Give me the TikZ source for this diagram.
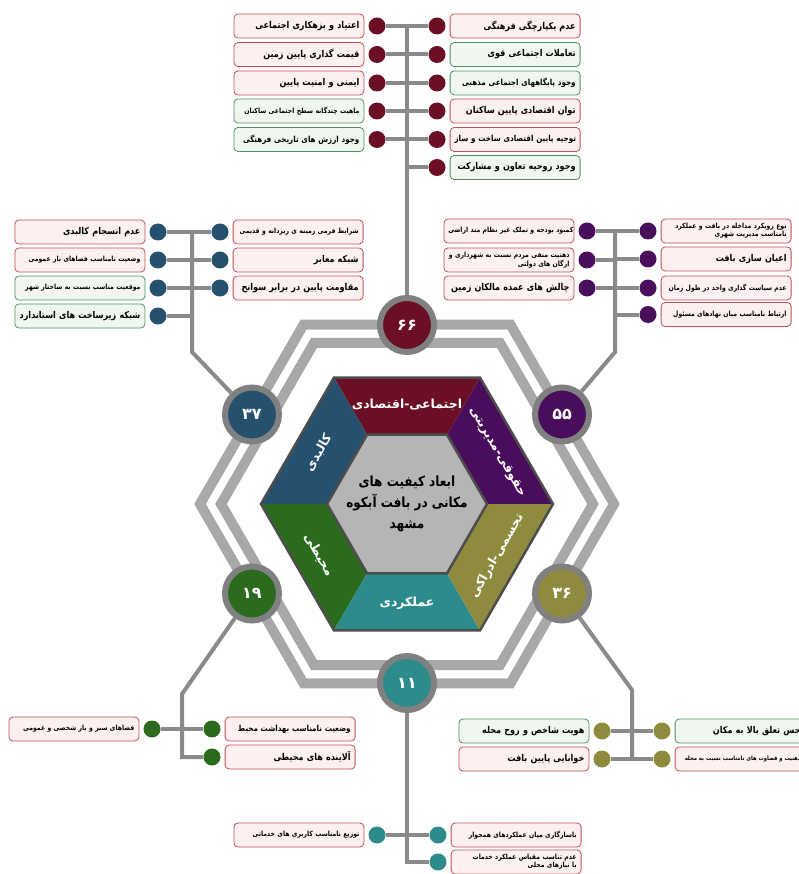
\documentclass[tikz,border=0pt]{standalone}
\usepackage{fontspec}
\newfontfamily\fa[Script=Arabic,FakeStretch=0.86]{DejaVu Sans}
\newfontfamily\fawide[Script=Arabic]{DejaVu Sans}
\TeXXeTstate=1
\usetikzlibrary{calc,positioning,backgrounds}

\definecolor{secTop}{HTML}{6B0F24}
\definecolor{secUR}{HTML}{4A0D5C}
\definecolor{secLR}{HTML}{8E8B3E}
\definecolor{secBot}{HTML}{2E8B8B}
\definecolor{secLL}{HTML}{2A6B1E}
\definecolor{secUL}{HTML}{25506E}
\definecolor{rimgray}{HTML}{4D4D4D}
\definecolor{coregray}{HTML}{B5B5B5}
\definecolor{bandgray}{HTML}{A8A8A8}
\definecolor{conngray}{HTML}{8A8A8A}
\definecolor{ringgray}{HTML}{808080}
\definecolor{badline}{HTML}{C0505A}
\definecolor{badfill}{HTML}{FDF0F0}
\definecolor{goodline}{HTML}{4E9160}
\definecolor{goodfill}{HTML}{F0F7F0}

\newcommand{\rl}[1]{\mbox{\beginR #1\endR}}

\tikzstyle{cell}=[rounded corners=4pt,line width=0.8pt,text width=121pt,minimum height=24pt,inner xsep=4.5pt,inner ysep=2pt,align=right,font=\fa\bfseries\fontsize{9.4}{10}\selectfont]
\tikzstyle{bad}=[cell,draw=badline,fill=badfill]
\tikzstyle{good}=[cell,draw=goodline,fill=goodfill]
\tikzstyle{mid}=[font=\fa\bfseries\fontsize{8.3}{9}\selectfont]
\tikzstyle{small}=[font=\fa\bfseries\fontsize{7.1}{8}\selectfont]
\tikzstyle{conn}=[draw=conngray,line width=4pt]
\tikzstyle{band}=[draw=bandgray,line width=10pt]
\tikzstyle{rim}=[draw=rimgray,line width=2.5pt]
\tikzstyle{panel}=[text=white,font=\fawide\bfseries\fontsize{12.5}{14}\selectfont]
\tikzset{bead/.style={circle,fill=#1,minimum size=17pt,inner sep=0pt},
  badge/.style={circle,fill=#1,draw=ringgray,line width=6pt,minimum size=54pt,inner sep=0pt,text=white,font=\fawide\bfseries\fontsize{16}{16}\selectfont}}

\begin{document}
\begin{tikzpicture}[x=1pt,y=-1pt]
\useasboundingbox (0,0) rectangle (799,874);

\coordinate (C) at (407,504);
\foreach \i in {0,...,5} {
  \coordinate (B\i) at ($(C)+(-60*\i:207)$);
  \coordinate (b\i) at ($(C)+(-60*\i:186)$);
  \coordinate (O\i) at ($(C)+(-60*\i:146)$);
  \coordinate (I\i) at ($(C)+(-60*\i:80)$);
}

% frames round the hexagon
\draw[band] (B0)--(B1)--(B2)--(B3)--(B4)--(B5)--cycle;
\draw[band] (b0)--(b1)--(b2)--(b3)--(b4)--(b5)--cycle;

% hexagon
\fill[secUR] (O0)--(O1)--(I1)--(I0)--cycle;
\fill[secTop] (O1)--(O2)--(I2)--(I1)--cycle;
\fill[secUL] (O2)--(O3)--(I3)--(I2)--cycle;
\fill[secLL] (O3)--(O4)--(I4)--(I3)--cycle;
\fill[secBot] (O4)--(O5)--(I5)--(I4)--cycle;
\fill[secLR] (O5)--(O0)--(I0)--(I5)--cycle;
\draw[rim] (O0)--(O1)--(O2)--(O3)--(O4)--(O5)--cycle;
\draw[rim,fill=coregray] (I0)--(I1)--(I2)--(I3)--(I4)--(I5)--cycle;

\node[panel] (lTop) at ($(C)+(-90:99)$) {\rl{اجتماعی-اقتصادی}};
\node[panel,rotate=-60] (lUR) at ($(C)+(-30:104)$) {\rl{حقوقی-مدیریتی}};
\node[panel,rotate=60] (lLR) at ($(C)+(30:104)$) {\rl{تجسمی-ادراکی}};
\node[panel] (lBot) at ($(C)+(90:99)$) {\rl{عملکردی}};
\node[panel,rotate=-60] (lLL) at ($(C)+(150:102)$) {\rl{محیطی}};
\node[panel,rotate=60] (lUL) at ($(C)+(-150:102)$) {\rl{کالبدی}};
\node[align=center,font=\fa\bfseries\fontsize{14}{21}\selectfont] (core) at (C)
  {\rl{ابعاد کیفیت های}\\\rl{مکانی در بافت آبکوه}\\\rl{مشهد}};

% counts
\node[badge=secTop] (n66) at ($(C)+(-90:179)$) {۶۶};
\node[badge=secUR] (n55) at ($(C)+(-30:179)$) {۵۵};
\node[badge=secLR] (n36) at ($(C)+(30:179)$) {۳۶};
\node[badge=secBot] (n11) at ($(C)+(90:179)$) {۱۱};
\node[badge=secLL] (n19) at ($(C)+(150:179)$) {۱۹};
\node[badge=secUL] (n37) at ($(C)+(-150:179)$) {۳۷};

% social-economic
\node[bead=secTop] (tl1) at (377,26) {};
\node[bead=secTop] (tl2) at (377,54.5) {};
\node[bead=secTop] (tl3) at (377,83) {};
\node[bead=secTop] (tl4) at (377,111) {};
\node[bead=secTop] (tl5) at (377,139.5) {};
\node[bad,left=4pt of tl1] (xtl1) {\rl{اعتیاد و بزهکاری اجتماعی}};
\node[bad,left=4pt of tl2] (xtl2) {\rl{قیمت گذاری پایین زمین}};
\node[bad,left=4pt of tl3] (xtl3) {\rl{ایمنی و امنیت پایین}};
\node[good,small,left=4pt of tl4] (xtl4) {\rl{ماهیت چندگانه سطح اجتماعی ساکنان}};
\node[good,mid,left=4pt of tl5] (xtl5) {\rl{وجود ارزش های تاریخی فرهنگی}};
\node[bead=secTop] (tr1) at (437,26) {};
\node[bead=secTop] (tr2) at (437,54.5) {};
\node[bead=secTop] (tr3) at (437,83) {};
\node[bead=secTop] (tr4) at (437,111) {};
\node[bead=secTop] (tr5) at (437,139.5) {};
\node[bead=secTop] (tr6) at (437,167.5) {};
\node[bad,right=4pt of tr1] (xtr1) {\rl{عدم یکپارچگی فرهنگی}};
\node[good,right=4pt of tr2] (xtr2) {\rl{تعاملات اجتماعی قوی}};
\node[good,mid,right=4pt of tr3] (xtr3) {\rl{وجود پایگاههای اجتماعی مذهبی}};
\node[bad,right=4pt of tr4] (xtr4) {\rl{توان اقتصادی پایین ساکنان}};
\node[bad,mid,right=4pt of tr5] (xtr5) {\rl{توجیه پایین اقتصادی ساخت و ساز}};
\node[good,right=4pt of tr6] (xtr6) {\rl{وجود روحیه تعاون و مشارکت}};

% physical
\node[bead=secUL] (ll1) at (158,232) {};
\node[bead=secUL] (ll2) at (158,260) {};
\node[bead=secUL] (ll3) at (158,288) {};
\node[bead=secUL] (ll4) at (158,316) {};
\node[bad,left=4pt of ll1] (xll1) {\rl{عدم انسجام کالبدی}};
\node[bad,small,left=4pt of ll2] (xll2) {\rl{وضعیت نامناسب فضاهای باز عمومی}};
\node[good,small,left=4pt of ll3] (xll3) {\rl{موقعیت مناسب نسبت به ساختار شهر}};
\node[good,left=4pt of ll4] (xll4) {\rl{شبکه زیرساخت های استاندارد}};
\node[bead=secUL] (lr1) at (220,232) {};
\node[bead=secUL] (lr2) at (220,260) {};
\node[bead=secUL] (lr3) at (220,288) {};
\node[bad,small,right=4pt of lr1] (xlr1) {\rl{شرایط فرمی زمینه ی ریزدانه و قدیمی}};
\node[bad,right=4pt of lr2] (xlr2) {\rl{شبکه معابر}};
\node[bad,right=4pt of lr3] (xlr3) {\rl{مقاومت پایین در برابر سوانح}};

% legal-managerial
\node[bead=secUR] (rl1) at (587,231) {};
\node[bead=secUR] (rl2) at (587,260) {};
\node[bead=secUR] (rl3) at (587,288) {};
\node[bad,small,left=4pt of rl1] (xrl1) {\rl{کمبود بودجه و تملک غیر نظام مند اراضی}};
\node[bad,small,left=4pt of rl2] (xrl2) {\rl{ذهنیت منفی مردم نسبت به شهرداری و}\\\rl{ارگان های دولتی}};
\node[bad,left=4pt of rl3] (xrl3) {\rl{چالش های عمده مالکان زمین}};
\node[bead=secUR] (rr1) at (648,231) {};
\node[bead=secUR] (rr2) at (648,259) {};
\node[bead=secUR] (rr3) at (648,288) {};
\node[bead=secUR] (rr4) at (648,314.5) {};
\node[bad,small,right=4pt of rr1] (xrr1) {\rl{نوع رویکرد مداخله در بافت و عملکرد}\\\rl{نامناسب مدیریت شهری}};
\node[bad,right=4pt of rr2] (xrr2) {\rl{اعیان سازی بافت}};
\node[bad,small,right=4pt of rr3] (xrr3) {\rl{عدم سیاست گذاری واحد در طول زمان}};
\node[bad,small,right=4pt of rr4] (xrr4) {\rl{ارتباط نامناسب میان نهادهای مسئول}};

% environmental
\node[bead=secLL] (el1) at (152,729) {};
\node[bad,small,left=4pt of el1] (xel1) {\rl{فضاهای سبز و باز شخصی و عمومی}};
\node[bead=secLL] (er1) at (212,729) {};
\node[bead=secLL] (er2) at (212,757) {};
\node[bad,mid,right=4pt of er1] (xer1) {\rl{وضعیت نامناسب بهداشت محیط}};
\node[bad,right=4pt of er2] (xer2) {\rl{آلاینده های محیطی}};

% visual-perceptual
\node[bead=secLR] (vl1) at (602,731) {};
\node[bead=secLR] (vl2) at (602,759) {};
\node[good,left=4pt of vl1] (xvl1) {\rl{هویت شاخص و روح محله}};
\node[bad,left=4pt of vl2] (xvl2) {\rl{خوانایی پایین بافت}};
\node[bead=secLR] (vr1) at (662,731) {};
\node[bead=secLR] (vr2) at (662,759) {};
\node[good,right=4pt of vr1] (xvr1) {\rl{حس تعلق بالا به مکان}};
\node[bad,font=\fa\bfseries\fontsize{6}{7}\selectfont,right=4pt of vr2] (xvr2) {\rl{ذهنیت و قضاوت های نامناسب نسبت به محله}};

% functional
\node[bead=secBot] (fl1) at (377,835) {};
\node[bad,small,left=4pt of fl1] (xfl1) {\rl{توزیع نامناسب کاربری های خدماتی}};
\node[bead=secBot] (fr1) at (438,835) {};
\node[bead=secBot] (fr2) at (438,862) {};
\node[bad,small,right=4pt of fr1] (xfr1) {\rl{ناسازگاری میان عملکردهای همجوار}};
\node[bad,small,right=4pt of fr2] (xfr2) {\rl{عدم تناسب مقیاس عملکرد خدمات}\\\rl{با نیازهای محلی}};

% trunks
\coordinate (j66) at (407,26);
\coordinate (j37a) at (192,232);
\coordinate (j37b) at (192,352);
\coordinate (j55a) at (615,231);
\coordinate (j55b) at (615,352);
\coordinate (j19a) at (182,694);
\coordinate (j19b) at (182,757);
\coordinate (j36a) at (632,690);
\coordinate (j36b) at (632,759);
\coordinate (j11) at (407,862);

\begin{scope}[on background layer]
\draw[conn] (n66) -- (j66);
\draw[conn] (tl1) -- (tr1);
\draw[conn] (tl2) -- (tl2 -| j66);
\draw[conn] (tl3) -- (tl3 -| j66);
\draw[conn] (tl4) -- (tl4 -| j66);
\draw[conn] (tl5) -- (tl5 -| j66);
\draw[conn] (tr2) -- (tr2 -| j66);
\draw[conn] (tr3) -- (tr3 -| j66);
\draw[conn] (tr4) -- (tr4 -| j66);
\draw[conn] (tr5) -- (tr5 -| j66);
\draw[conn] (tr6) -- (tr6 -| j66);

\draw[conn] (n37) -- (j37b) -- (j37a);
\draw[conn] (ll1) -- (lr1);
\draw[conn] (ll2) -- (lr2);
\draw[conn] (ll3) -- (lr3);
\draw[conn] (ll4) -- (ll4 -| j37a);

\draw[conn] (n55) -- (j55b) -- (j55a);
\draw[conn] (rl1) -- (rr1);
\draw[conn] (rl2) -- (rl2 -| j55a);
\draw[conn] (rr2) -- (rr2 -| j55a);
\draw[conn] (rl3) -- (rr3);
\draw[conn] (rr4) -- (rr4 -| j55a);

\draw[conn] (n19) -- (j19a) -- (j19b) -- (er2);
\draw[conn] (el1) -- (er1);

\draw[conn] (n36) -- (j36a) -- (j36b);
\draw[conn] (vl1) -- (vr1);
\draw[conn] (vl2) -- (vr2);

\draw[conn] (n11) -- (j11) -- (fr2);
\draw[conn] (fl1) -- (fr1);
\end{scope}
\end{tikzpicture}
\end{document}
